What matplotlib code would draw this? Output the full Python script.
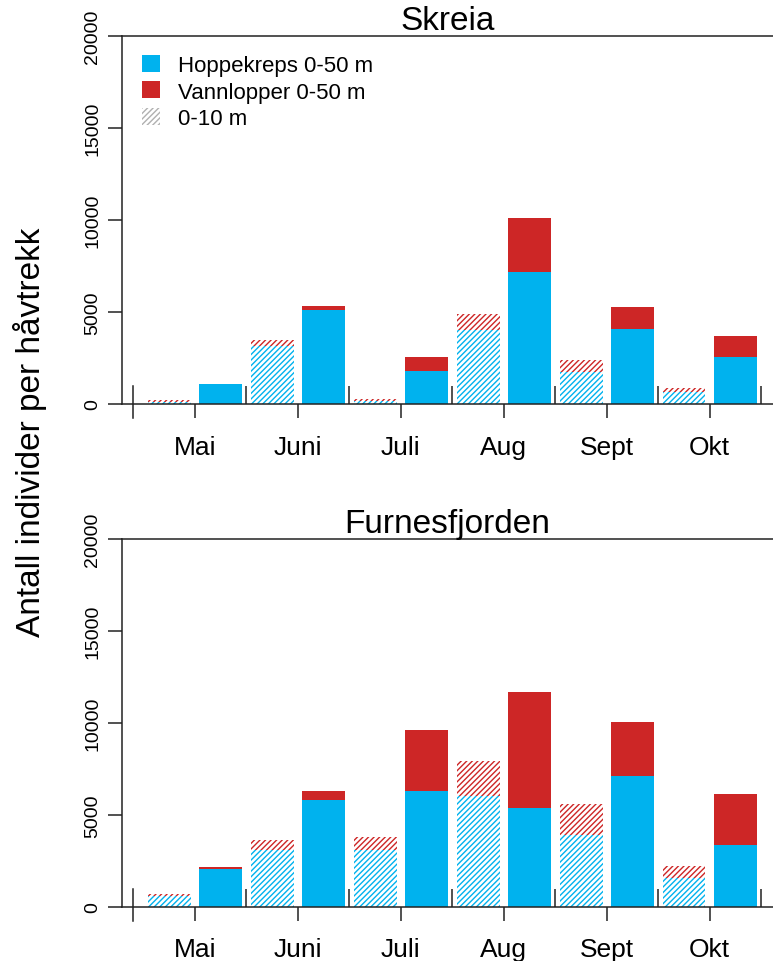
import matplotlib
matplotlib.use('Agg')
import matplotlib.pyplot as plt
import numpy as np
from matplotlib.patches import Patch

plt.rcParams['font.family'] = ['Liberation Sans', 'DejaVu Sans']
plt.rcParams['hatch.linewidth'] = 1.0

months = ['Mai', 'Juni', 'Juli', 'Aug', 'Sept', 'Okt']

# Skreia: 0-10 m (skravert) og 0-50 m (fylt)
skreia_hopp_10 = [120, 3150, 170, 4050, 1730, 650]
skreia_vann_10 = [80, 340, 110, 820, 670, 220]
skreia_hopp_50 = [1080, 5130, 1770, 7190, 4100, 2560]
skreia_vann_50 = [0, 220, 770, 2900, 1150, 1150]

# Furnesfjorden
furnes_hopp_10 = [600, 3100, 3100, 6030, 3900, 1570]
furnes_vann_10 = [90, 530, 710, 1900, 1680, 650]
furnes_hopp_50 = [2050, 5790, 6310, 5380, 7110, 3360]
furnes_vann_50 = [90, 520, 3300, 6300, 2930, 2770]

blue = '#00B2EE'
red = '#CD2626'
axcol = '#222222'

W, H = 773, 962
fig = plt.figure(figsize=(W / 100, H / 100), dpi=100)


def add_ax(left, top, right, bottom):
    return fig.add_axes([left / W, 1 - bottom / H, (right - left) / W, (bottom - top) / H])


# barplot-oppsett som i R: bredde 1, mellomrom 0.2
centers = 0.7 + 1.2 * np.arange(12)
x10 = centers[0::2]
x50 = centers[1::2]
month_mid = (x10 + x50) / 2
bounds = x50 + 0.6


def panel(ax, hopp10, vann10, hopp50, vann50, title):
    ax.bar(x10, hopp10, width=1, facecolor='white', edgecolor=blue, hatch='//////', linewidth=0)
    ax.bar(x10, vann10, bottom=hopp10, width=1, facecolor='white', edgecolor=red, hatch='//////', linewidth=0)
    ax.bar(x50, hopp50, width=1, color=blue, linewidth=0)
    ax.bar(x50, vann50, bottom=hopp50, width=1, color=red, linewidth=0)

    ax.set_xlim(-0.394, 14.774)
    ax.set_ylim(0, 20000)
    ax.spines['right'].set_visible(False)
    for s in ['left', 'top', 'bottom']:
        ax.spines[s].set_color(axcol)
        ax.spines[s].set_linewidth(1.1)

    ax.set_yticks([0, 5000, 10000, 15000, 20000])
    ax.set_yticklabels(['0', '5000', '10000', '15000', '20000'], rotation=90, va='center')
    ax.tick_params(axis='y', length=10, width=1.1, color=axcol, labelsize=14, pad=5)

    ax.set_xticks(month_mid, months)
    ax.set_xticks(bounds, minor=True)
    ax.tick_params(axis='x', which='major', direction='out', length=10, width=1.1,
                   color=axcol, labelsize=19, pad=12)
    ax.tick_params(axis='x', which='minor', direction='in', length=13, width=1.1, color=axcol)
    # første strek krysser aksen
    ax.plot([-0.14, -0.14], [-0.038, 0.049], transform=ax.get_xaxis_transform(),
            clip_on=False, color=axcol, lw=1.1)

    ax.set_title(title, fontsize=24, pad=4)


ax1 = add_ax(122.3, 37.3, 773, 405)
panel(ax1, skreia_hopp_10, skreia_vann_10, skreia_hopp_50, skreia_vann_50, 'Skreia')

ax2 = add_ax(122.3, 540, 773, 907.7)
panel(ax2, furnes_hopp_10, furnes_vann_10, furnes_hopp_50, furnes_vann_50, 'Furnesfjorden')

handles = [Patch(facecolor=blue, linewidth=0),
           Patch(facecolor=red, linewidth=0),
           Patch(facecolor='white', edgecolor='#B0B0B0', hatch='//////', linewidth=0)]
ax1.legend(handles, ['Hoppekreps 0-50 m', 'Vannlopper 0-50 m', '0-10 m'],
           loc='upper left', bbox_to_anchor=(0.03, 0.95), frameon=False, fontsize=16,
           handlelength=0.8, handleheight=0.8, handletextpad=0.85, labelspacing=0.25,
           borderaxespad=0, borderpad=0)

fig.text(30 / W, 1 - 432 / H, 'Antall individer per håvtrekk', rotation=90,
         fontsize=24, ha='center', va='center')

fig.savefig('out.png', dpi=100)
